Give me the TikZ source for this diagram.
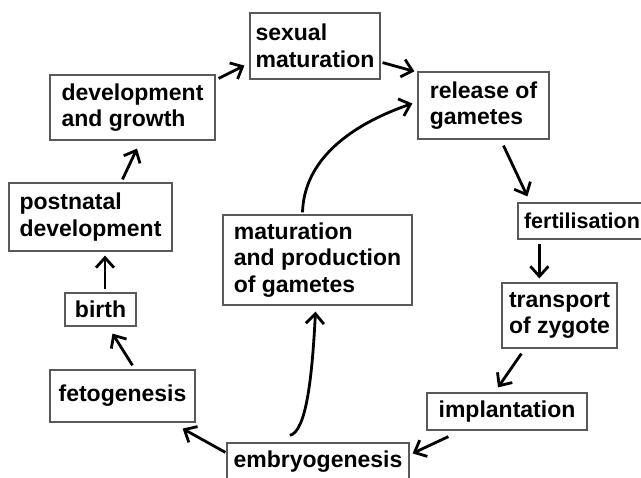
\documentclass[tikz,border=0pt]{standalone}
\usepackage{fontspec}
\setmainfont{Liberation Sans}
\usetikzlibrary{arrows.meta, calc}

\begin{document}
\begin{tikzpicture}[
  x=1pt, y=-1pt,
  every node/.style={font=\fontsize{23}{26.5}\selectfont\bfseries},
  stage/.style={rectangle, draw=black!65, line width=1.2pt, align=left,
                inner sep=0pt, fill=white},
  arrow/.style={-{Straight Barb[length=10pt, width=18pt]}, line width=2.8pt},
]
\useasboundingbox (0,0) rectangle (641,478);

% outer cycle
\node[stage, minimum width=130, minimum height=66] (sexmat) at (315,46)    {sexual\\maturation};
\node[stage, minimum width=131, minimum height=67] (relg)   at (483.5,105.5) {release of\\gametes};
\node[stage, minimum width=128, minimum height=36,
      font=\fontsize{21.5}{25}\selectfont\bfseries]  (fert)   at (582,221)   {fertilisation};
\node[stage, minimum width=115, minimum height=65] (transp) at (559.5,315.5) {transport\\of zygote};
\node[stage, minimum width=160, minimum height=37] (impl)   at (507,411.5) {implantation};
\node[stage, minimum width=182, minimum height=38] (embryo) at (318,462)   {embryogenesis};
\node[stage, minimum width=145, minimum height=52] (feto)   at (122.5,396) {fetogenesis};
\node[stage, minimum width=71,  minimum height=33] (birth)  at (100.5,309.5) {birth};
\node[stage, minimum width=163, minimum height=68] (postnat) at (90.5,217) {postnatal\\development};
\node[stage, minimum width=165, minimum height=65] (devgr)  at (132.5,107.5) {development\\and growth};
% germ line
\node[stage, minimum width=189, minimum height=90] (matprod) at (317.5,260) {maturation\\and production\\of gametes};

\draw[arrow] ($(devgr.north east)+(3,4)$)   -- ($(sexmat.south west)+(-5,-14)$);
\draw[arrow] ($(sexmat.south east)+(2,-17)$) -- ($(relg.north west)+(-3,0)$);
\draw[arrow] ($(relg.south)+(20,6)$)         -- ($(fert.north west)+(10,-6)$);
\draw[arrow] ($(fert.south west)+(22,4)$)    -- ($(transp.north west)+(38,-4)$);
\draw[arrow] ($(transp.south west)+(20,5)$)  -- ($(impl.north)+(-9,-5)$);
\draw[arrow] ($(impl.south west)+(22,6)$)    -- ($(embryo.north east)+(3,11)$);
\draw[arrow] ($(embryo.north west)+(-1,10)$) -- ($(feto.south east)+(-13,6)$);
\draw[arrow] ($(feto.north)+(10,-4)$)        -- ($(birth.south)+(12,7)$);
\draw[arrow] ($(birth.north)+(4.5,-3)$)      -- ($(postnat.south)+(14.5,4)$);
\draw[arrow] ($(postnat.north)+(32,-3)$)     -- ($(devgr.south)+(4.5,8)$);

% curved links through the germ line
\draw[arrow] ($(embryo.north)+(-28,-7)$) .. controls (306,431) and (312,380) .. ($(matprod.south)+(-2,6)$);
\draw[arrow] ($(matprod.north)+(-15,-2)$) .. controls (304,160) and (350,125) .. ($(relg.west)+(-5,-2)$);
\end{tikzpicture}
\end{document}
